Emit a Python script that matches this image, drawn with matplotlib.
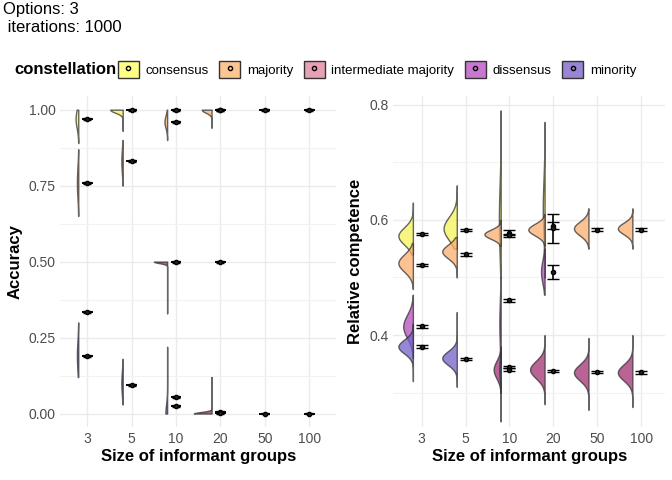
import matplotlib
matplotlib.use("Agg")
import matplotlib.pyplot as plt
import numpy as np
from matplotlib.patches import Patch
from matplotlib.lines import Line2D

plt.rcParams['font.family'] = ['Liberation Sans', 'DejaVu Sans']

groups = ["3", "5", "10", "20", "50", "100"]
constellations = ["consensus", "majority", "intermediate majority", "dissensus", "minority"]
colors = {"consensus": "#F6F45A", "majority": "#FCAE6E", "intermediate majority": "#A23070",
          "dissensus": "#B44CC0", "minority": "#7560C8"}
legend_colors = ["#FFFF88", "#FDC590", "#E8A0B4", "#C878D0", "#9A84D4"]

# half violins: (group index, constellation, peak, sd, low, high, max width)
acc_violins = [
    (0, "consensus", 0.97, 0.03, 0.89, 1.00, 0.06),
    (0, "majority", 0.76, 0.05, 0.65, 0.87, 0.03),
    (0, "minority", 0.19, 0.05, 0.12, 0.30, 0.03),
    (1, "consensus", 1.00, 0.01, 0.93, 1.00, 0.28),
    (1, "majority", 0.83, 0.04, 0.75, 0.90, 0.03),
    (1, "minority", 0.10, 0.04, 0.03, 0.18, 0.03),
    (2, "majority", 0.96, 0.02, 0.90, 1.00, 0.06),
    (2, "intermediate majority", 0.50, 0.005, 0.33, 0.50, 0.30),
    (2, "minority", 0.00, 0.03, 0.00, 0.22, 0.04),
    (3, "majority", 1.00, 0.01, 0.94, 1.00, 0.22),
    (3, "intermediate majority", 0.00, 0.005, 0.00, 0.12, 0.40),
]
acc_means = [
    (0, "consensus", 0.97), (0, "majority", 0.76), (0, "dissensus", 0.333), (0, "minority", 0.19),
    (1, "consensus", 1.0), (1, "majority", 0.83), (1, "minority", 0.095),
    (2, "consensus", 1.0), (2, "majority", 0.96), (2, "intermediate majority", 0.5),
    (2, "intermediate majority", 0.055), (2, "minority", 0.025),
    (3, "consensus", 1.0), (3, "majority", 0.998), (3, "intermediate majority", 0.5),
    (3, "intermediate majority", 0.005), (3, "minority", 0.003),
    (4, "majority", 1.0), (4, "intermediate majority", 0.0),
    (5, "majority", 1.0), (5, "intermediate majority", 0.0),
]

comp_violins = [
    (0, "consensus", 0.572, 0.015, 0.54, 0.63, 0.33),
    (0, "majority", 0.525, 0.015, 0.48, 0.56, 0.33),
    (0, "dissensus", 0.415, 0.02, 0.36, 0.47, 0.22),
    (0, "minority", 0.38, 0.012, 0.32, 0.42, 0.33),
    (1, "consensus", 0.585, 0.02, 0.55, 0.66, 0.30),
    (1, "majority", 0.545, 0.012, 0.50, 0.57, 0.33),
    (1, "minority", 0.36, 0.012, 0.31, 0.44, 0.33),
    (2, "consensus", 0.60, 0.06, 0.50, 0.79, 0.04),
    (2, "majority", 0.575, 0.008, 0.555, 0.60, 0.37),
    (2, "dissensus", 0.42, 0.04, 0.35, 0.50, 0.03),
    (2, "intermediate majority", 0.34, 0.015, 0.25, 0.38, 0.16),
    (2, "minority", 0.34, 0.02, 0.30, 0.37, 0.03),
    (3, "consensus", 0.62, 0.05, 0.50, 0.77, 0.04),
    (3, "majority", 0.583, 0.01, 0.555, 0.61, 0.37),
    (3, "dissensus", 0.51, 0.02, 0.47, 0.55, 0.08),
    (3, "intermediate majority", 0.34, 0.015, 0.28, 0.40, 0.33),
    (4, "majority", 0.585, 0.012, 0.55, 0.62, 0.33),
    (4, "intermediate majority", 0.335, 0.014, 0.27, 0.395, 0.33),
    (5, "majority", 0.585, 0.01, 0.55, 0.62, 0.33),
    (5, "intermediate majority", 0.335, 0.014, 0.275, 0.40, 0.33),
]
# (group, constellation, mean, error)
comp_means = [
    (0, "consensus", 0.575, 0.002), (0, "majority", 0.522, 0.002),
    (0, "dissensus", 0.415, 0.002), (0, "minority", 0.38, 0.002),
    (1, "consensus", 0.582, 0.002), (1, "majority", 0.54, 0.002), (1, "minority", 0.358, 0.002),
    (2, "consensus", 0.578, 0.004), (2, "majority", 0.573, 0.003), (2, "dissensus", 0.46, 0.002),
    (2, "intermediate majority", 0.345, 0.002), (2, "minority", 0.34, 0.002),
    (3, "consensus", 0.59, 0.006), (3, "majority", 0.585, 0.025),
    (3, "dissensus", 0.51, 0.012), (3, "intermediate majority", 0.338, 0.002),
    (4, "majority", 0.583, 0.002), (4, "intermediate majority", 0.336, 0.002),
    (5, "majority", 0.583, 0.002), (5, "intermediate majority", 0.335, 0.002),
]


def half_violin(ax, pos, name, peak, sd, lo, hi, width):
    y = np.linspace(lo, hi, 200)
    d = np.exp(-0.5 * ((y - peak) / sd) ** 2)
    d = d / d.max() * width
    edge = pos - 0.2
    ax.fill_betweenx(y, edge - d, edge, color=colors[name], alpha=0.75,
                     edgecolor="#333333", linewidth=1.0, zorder=2)


def style(ax):
    for s in ax.spines.values():
        s.set_visible(False)
    ax.grid(True, color="#EBEBEB", linewidth=1.0, zorder=0)
    ax.set_axisbelow(True)
    ax.tick_params(length=0, labelsize=10, colors="#4D4D4D")
    ax.set_xticks(range(len(groups)))
    ax.set_xticklabels(groups)
    ax.set_xlabel("Size of informant groups", fontsize=12, fontweight="bold", labelpad=2)


fig = plt.figure(figsize=(6.72, 4.8), dpi=100)
ax1 = fig.add_axes([0.09, 0.11, 0.41, 0.69])
ax2 = fig.add_axes([0.585, 0.11, 0.405, 0.69])

for g, name, pk, sd, lo, hi, w in acc_violins:
    half_violin(ax1, g, name, pk, sd, lo, hi, w)
for g, name, m in acc_means:
    ax1.errorbar(g, m, yerr=0.003, fmt="o", ms=3, color="black", mfc="#222222",
                 capsize=3, elinewidth=1, zorder=4)
    ax1.plot([g - 0.1, g + 0.1], [m, m], color="black", lw=1.4, zorder=3)
style(ax1)
ax1.set_xlim(-0.6, 5.6)
ax1.set_ylim(-0.045, 1.045)
ax1.set_yticks([0, 0.25, 0.5, 0.75, 1.0])
ax1.set_yticklabels(["0.00", "0.25", "0.50", "0.75", "1.00"])
ax1.set_yticks([0.125, 0.375, 0.625, 0.875], minor=True)
ax1.grid(True, which="minor", color="#F2F2F2", linewidth=0.8)
ax1.tick_params(which="minor", length=0)
ax1.set_ylabel("Accuracy", fontsize=12, fontweight="bold")

for g, name, m, e in comp_means:
    ax2.errorbar(g, m, yerr=e, fmt="o", ms=3, color="black", mfc="#222222",
                 capsize=4, elinewidth=1.2, zorder=4)
for g, name, pk, sd, lo, hi, w in comp_violins:
    half_violin(ax2, g, name, pk, sd, lo, hi, w)
style(ax2)
ax2.set_xlim(-0.65, 5.55)
ax2.set_ylim(0.24, 0.815)
ax2.set_yticks([0.4, 0.6, 0.8])
ax2.set_yticks([0.3, 0.5, 0.7], minor=True)
ax2.grid(True, which="minor", color="#F2F2F2", linewidth=0.8)
ax2.tick_params(which="minor", length=0)
ax2.set_ylabel("Relative competence", fontsize=12, fontweight="bold")

handles = [(Patch(facecolor=c, edgecolor="#333333"),
            Line2D([], [], marker="o", ms=3, color="black", mfc=c, ls="none"))
           for c in legend_colors]
fig.text(0.022, 0.855, "constellation", fontsize=12, fontweight="bold", va="center")
fig.legend(handles, constellations, loc="center left", bbox_to_anchor=(0.175, 0.855),
           ncol=5, frameon=False, fontsize=9.5, handlelength=1.6, handleheight=1.6,
           columnspacing=0.8, handletextpad=0.5, borderaxespad=0, borderpad=0)
fig.text(0.005, 0.995, "Options: 3\n iterations: 1000", ha="left", va="top", fontsize=12)

fig.savefig("out.png", dpi=100)
